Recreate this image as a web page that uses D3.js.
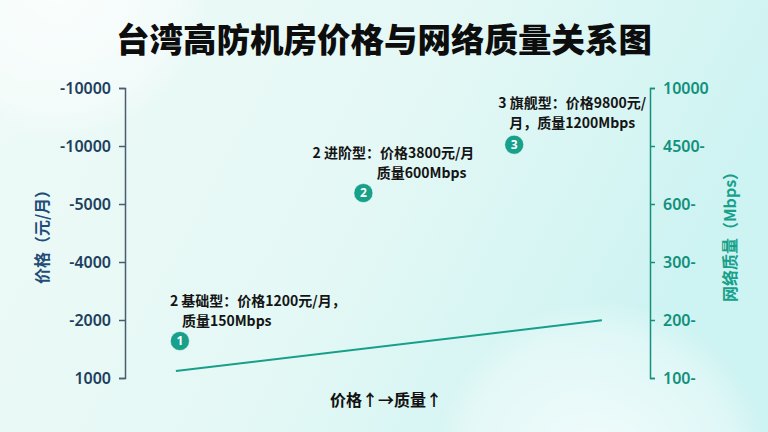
<!DOCTYPE html>
<html>
<head>
<meta charset="utf-8">
<script src="https://cdn.jsdelivr.net/npm/d3@7"></script>
<style>
  html, body { margin: 0; padding: 0; }
  body { width: 768px; height: 432px; overflow: hidden; font-family: "Noto Sans CJK SC", "Noto Sans", sans-serif; }
</style>
</head>
<body>
<div id="chart"></div>
<script>
(function() {
  const width = 768
  const height = 432

  // 数据
  const tiers = ['基础型', '进阶型', '旗舰型']
  const tierNo = ['2', '2', '3']
  const prices = [1200, 3800, 9800]          // 元/月
  const quality = [150, 600, 1200]           // Mbps
  const trendPrice = [1170, 17000]
  const trendQuality = [122, 175]
  const priceTicks = ['1000', '-2000', '-4000', '-5000', '-10000', '-10000']
  const qualityTicks = ['100-', '200-', '300-', '600-', '4500-', '10000']
  const labelLines = [
    ['2 基础型：价格1200元/月，', '质量150Mbps'],
    ['2 进阶型：价格3800元/月', '质量600Mbps'],
    ['3 旗舰型：价格9800元/', '月，质量1200Mbps']
  ]

  // 标注相对于圆点的偏移（布局）
  const labelLayout = [
    { anchor: 'start', lines: [[-10, -40], [2, -20]] },
    { anchor: 'end', lines: [[111, -40], [103, -20]] },
    { anchor: 'middle', lines: [[58, -42], [58, -22]] }
  ]

  const margin = { top: 88, right: 118, bottom: 54, left: 125 }
  const x0 = margin.left, x1 = width - margin.right
  const y0 = height - margin.bottom, y1 = margin.top

  const svg = d3.select('#chart').append('svg')
      .attr('width', width)
      .attr('height', height)

  // 背景
  const defs = svg.append('defs')
  const bg = defs.append('linearGradient').attr('id', 'bg')
      .attr('x1', 0).attr('y1', 0).attr('x2', 1).attr('y2', 0.3)
  bg.append('stop').attr('offset', 0).attr('stop-color', '#eefaf7')
  bg.append('stop').attr('offset', 0.55).attr('stop-color', '#e4f8f5')
  bg.append('stop').attr('offset', 1).attr('stop-color', '#cdf3f2')
  const blob = defs.append('radialGradient').attr('id', 'blob')
  blob.append('stop').attr('offset', 0).attr('stop-color', '#ffffff').attr('stop-opacity', 0.75)
  blob.append('stop').attr('offset', 0.8).attr('stop-color', '#ffffff').attr('stop-opacity', 0.35)
  blob.append('stop').attr('offset', 1).attr('stop-color', '#ffffff').attr('stop-opacity', 0)

  svg.append('rect').attr('width', width).attr('height', height).attr('fill', 'url(#bg)')
  svg.append('circle').attr('cx', 60).attr('cy', -10).attr('r', 150).attr('fill', 'url(#blob)')
  svg.append('circle').attr('cx', 600).attr('cy', 470).attr('r', 170).attr('fill', 'url(#blob)')

  // 比例尺
  const x = d3.scaleLog().domain([850, 23000]).range([x0, x1])
  const y = d3.scalePow().exponent(-0.4).domain([116.5, 3880]).range([y0, y1])
  const yLeft = d3.scaleLinear().domain([0, priceTicks.length - 1]).range([y0, y1])
  const yRight = d3.scaleLinear().domain([0, qualityTicks.length - 1]).range([y0, y1])

  // 标题
  svg.append('text')
      .attr('x', width / 2).attr('y', 52)
      .attr('text-anchor', 'middle')
      .attr('font-size', 33.5).attr('font-weight', 900)
      .attr('fill', '#0d0d0d')
      .text('台湾高防机房价格与网络质量关系图')

  // 左轴
  const gl = svg.append('g')
      .attr('transform', `translate(${x0},0)`)
      .call(d3.axisLeft(yLeft).tickValues(d3.range(priceTicks.length)).tickFormat(i => priceTicks[i]).tickSize(6).tickPadding(8))
  gl.select('.domain').attr('stroke', '#4a5d70').attr('stroke-width', 1.5)
  gl.selectAll('.tick line').attr('stroke', '#4a5d70').attr('stroke-width', 1.5)
  gl.selectAll('.tick text')
      .attr('fill', '#1d3f5e').attr('font-size', 16).attr('font-weight', 600)
      .attr('font-family', '"Noto Sans", sans-serif')

  svg.append('text')
      .attr('transform', `translate(42,${(y0 + y1) / 2}) rotate(-90)`)
      .attr('text-anchor', 'middle').attr('dy', '0.35em')
      .attr('font-size', 16).attr('font-weight', 700)
      .attr('fill', '#1f4d78')
      .text('价格（元/月）')

  // 右轴
  const gr = svg.append('g')
      .attr('transform', `translate(${x1},0)`)
      .call(d3.axisRight(yRight).tickValues(d3.range(qualityTicks.length)).tickFormat(i => qualityTicks[i]).tickSize(5).tickPadding(8))
  gr.select('.domain').attr('stroke', '#14907c').attr('stroke-width', 1.5)
  gr.selectAll('.tick line').attr('stroke', '#14907c').attr('stroke-width', 1.5)
  gr.selectAll('.tick text')
      .attr('fill', '#12907c').attr('font-size', 16).attr('font-weight', 600)
      .attr('font-family', '"Noto Sans", sans-serif')

  svg.append('text')
      .attr('transform', `translate(730,${(y0 + y1) / 2}) rotate(-90)`)
      .attr('text-anchor', 'middle').attr('dy', '0.35em')
      .attr('font-size', 16).attr('font-weight', 700)
      .attr('fill', '#17a08a')
      .text('网络质量（Mbps）')

  // 趋势线
  const trend = trendPrice.map((p, i) => [p, trendQuality[i]])
  svg.append('path')
      .datum(trend)
      .attr('fill', 'none')
      .attr('stroke', '#16a08a')
      .attr('stroke-width', 2)
      .attr('d', d3.line().x(d => x(d[0])).y(d => y(d[1])))

  // 点与标注
  const pts = tiers.map((t, i) => ({ tier: t, no: tierNo[i], price: prices[i], q: quality[i], lines: labelLines[i], lay: labelLayout[i], idx: i + 1 }))

  const node = svg.append('g').selectAll('g')
    .data(pts)
    .enter().append('g')
      .attr('transform', d => `translate(${x(d.price)},${y(d.q)})`)

  node.append('circle')
      .attr('r', 9.5)
      .attr('fill', '#17a08a')
      .attr('stroke', '#ffffff').attr('stroke-opacity', 0.5).attr('stroke-width', 1)

  node.append('text')
      .attr('text-anchor', 'middle').attr('dy', '0.36em')
      .attr('font-size', 12).attr('font-weight', 700)
      .attr('fill', '#fff')
      .attr('font-family', '"Noto Sans", sans-serif')
      .text(d => d.idx)

  node.each(function(d) {
    const g = d3.select(this)
    d.lines.forEach((line, j) => {
      g.append('text')
          .attr('x', d.lay.lines[j][0]).attr('y', d.lay.lines[j][1])
          .attr('dy', '0.35em')
          .attr('text-anchor', d.lay.anchor)
          .attr('font-size', 14).attr('font-weight', 700)
          .attr('fill', '#141414')
          .text(line)
    })
  })

  // 底部说明
  svg.append('text')
      .attr('x', 386).attr('y', 400).attr('dy', '0.35em')
      .attr('text-anchor', 'middle')
      .attr('font-size', 16).attr('font-weight', 700)
      .attr('fill', '#111')
      .text('价格↑→质量↑')
})()
</script>
</body>
</html>
